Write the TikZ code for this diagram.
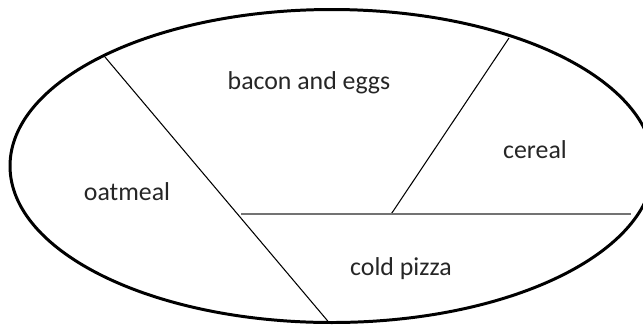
\documentclass[tikz,border=0pt]{standalone}
\usepackage{fontspec}
\setmainfont{Carlito}
\begin{document}
\begin{tikzpicture}[x=0.02cm,y=-0.02cm,
  outline/.style={line width=1.7pt,black},
  divider/.style={line width=0.6pt,black},
  shelf/.style={line width=1.1pt,black!55},
  lbl/.style={font=\fontsize{14.7}{17}\selectfont,text=black!85,inner sep=0pt}]
\useasboundingbox (0,0) rectangle (643,326);
\clip (0,0) rectangle (643,326);
\draw[outline] (331.8,166) ellipse [x radius=321.8, y radius=156.5];
\coordinate (a) at (105,57);
\coordinate (b) at (329,322.5);
\coordinate (c) at (241,214.3);
\coordinate (d) at (630.5,214.3);
\coordinate (e) at (391,214.3);
\coordinate (f) at (509,38);
\draw[divider] (a) -- (b);
\draw[divider] (e) -- (f);
\draw[shelf] (c) -- (d);
\node[lbl] (bacon) at (309,83) {bacon and eggs};
\node[lbl] (cereal) at (535,150) {cereal};
\node[lbl] (oatmeal) at (127,192) {oatmeal};
\node[lbl] (pizza) at (401,269) {cold pizza};
\end{tikzpicture}
\end{document}
